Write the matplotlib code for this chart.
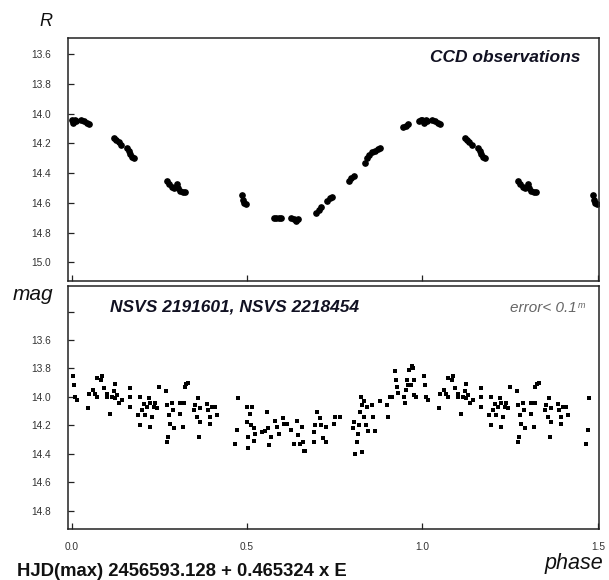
import matplotlib
matplotlib.use("Agg")
import matplotlib.pyplot as plt
import numpy as np

plt.rcParams['font.family'] = ['Liberation Sans', 'DejaVu Sans']

# CCD light curve (R band), phase 0..1
ccd_phase = [0.000, 0.005, 0.010, 0.014,
             0.027, 0.035, 0.043, 0.050,
             0.122, 0.128, 0.134, 0.140,
             0.158, 0.163, 0.168, 0.173, 0.177,
             0.271, 0.279, 0.286, 0.292,
             0.300, 0.303, 0.310, 0.318, 0.324,
             0.486, 0.488, 0.492, 0.496,
             0.577, 0.584, 0.591, 0.597,
             0.626, 0.633, 0.640, 0.646,
             0.698, 0.704, 0.710,
             0.728, 0.736, 0.742,
             0.790, 0.797, 0.804,
             0.836, 0.842, 0.848, 0.856, 0.864, 0.872, 0.878,
             0.944, 0.952, 0.958,
             0.990, 0.995]
ccd_mag = [14.04, 14.06, 14.04, 14.05,
           14.04, 14.05, 14.06, 14.07,
           14.16, 14.18, 14.19, 14.21,
           14.23, 14.25, 14.27, 14.29, 14.30,
           14.45, 14.47, 14.49, 14.50,
           14.47, 14.50, 14.52, 14.53, 14.53,
           14.55, 14.58, 14.60, 14.61,
           14.70, 14.70, 14.70, 14.70,
           14.70, 14.71, 14.72, 14.71,
           14.67, 14.65, 14.63,
           14.59, 14.57, 14.56,
           14.45, 14.43, 14.42,
           14.33, 14.30, 14.28, 14.26, 14.25, 14.24, 14.23,
           14.09, 14.08, 14.07,
           14.05, 14.04]

# NSVS survey photometry, phase 0..1
nsvs_phase = [0.005, 0.007, 0.010, 0.016, 0.046, 0.049, 0.062, 0.067, 0.073, 0.073,
              0.083, 0.087, 0.092, 0.100, 0.102, 0.111, 0.116, 0.120, 0.125, 0.125,
              0.130, 0.135, 0.144, 0.168, 0.168, 0.168, 0.189, 0.195, 0.196, 0.200,
              0.206, 0.210, 0.215, 0.220, 0.223, 0.225, 0.230, 0.234, 0.239, 0.244,
              0.249, 0.268, 0.271, 0.272, 0.275, 0.277, 0.282, 0.287, 0.290, 0.291,
              0.310, 0.310, 0.318, 0.320, 0.322, 0.325, 0.331, 0.348, 0.353, 0.358,
              0.360, 0.362, 0.365, 0.367, 0.386, 0.390, 0.394, 0.396, 0.400, 0.410,
              0.414, 0.467, 0.472, 0.474, 0.500, 0.500, 0.502, 0.502, 0.508, 0.512,
              0.514, 0.519, 0.521, 0.524, 0.543, 0.550, 0.557, 0.561, 0.564, 0.568,
              0.581, 0.586, 0.590, 0.604, 0.606, 0.614, 0.625, 0.633, 0.642, 0.645,
              0.650, 0.657, 0.659, 0.663, 0.666, 0.690, 0.691, 0.695, 0.700, 0.707,
              0.711, 0.717, 0.724, 0.726, 0.747, 0.752, 0.766, 0.802, 0.806, 0.808,
              0.813, 0.815, 0.818, 0.821, 0.825, 0.827, 0.827, 0.832, 0.834, 0.840,
              0.842, 0.846, 0.856, 0.859, 0.865, 0.879, 0.900, 0.903, 0.908, 0.913,
              0.922, 0.925, 0.927, 0.929, 0.948, 0.951, 0.953, 0.957, 0.960, 0.963,
              0.966, 0.970, 0.973, 0.976, 0.976, 0.982]
nsvs_mag = [13.85, 13.92, 14.00, 14.02, 14.08, 13.98, 13.95, 13.98, 14.00, 13.87,
            13.88, 13.85, 13.94, 13.98, 14.00, 14.12, 14.00, 13.96, 13.91, 14.01,
            13.99, 14.04, 14.02, 13.94, 14.00, 14.07, 14.13, 14.20, 14.00, 14.09,
            14.05, 14.13, 14.07, 14.01, 14.04, 14.21, 14.14, 14.07, 14.04, 14.08,
            13.93, 13.96, 14.06, 14.32, 14.28, 14.13, 14.19, 14.04, 14.09, 14.22,
            14.04, 14.12, 14.21, 14.04, 13.93, 13.91, 13.90, 14.09, 14.06, 14.14,
            14.01, 14.28, 14.18, 14.08, 14.05, 14.09, 14.14, 14.19, 14.07, 14.07,
            14.13, 14.33, 14.23, 14.01, 14.07, 14.18, 14.28, 14.36, 14.12, 14.20,
            14.07, 14.22, 14.31, 14.26, 14.25, 14.24, 14.11, 14.22, 14.34, 14.28,
            14.17, 14.21, 14.26, 14.15, 14.19, 14.19, 14.23, 14.33, 14.17, 14.27,
            14.33, 14.21, 14.32, 14.38, 14.38, 14.25, 14.32, 14.20, 14.11, 14.15,
            14.20, 14.29, 14.32, 14.21, 14.19, 14.14, 14.14, 14.22, 14.18, 14.40,
            14.32, 14.26, 14.20, 14.11, 14.00, 14.39, 14.06, 14.14, 14.03, 14.20,
            14.07, 14.24, 14.06, 14.14, 14.24, 14.03, 14.06, 14.14, 14.00, 14.00,
            13.82, 13.88, 13.93, 13.97, 14.00, 14.04, 13.95, 13.88, 13.92, 13.81,
            13.92, 13.78, 13.80, 13.88, 13.99, 14.00]

top_yticks = [13.6, 13.8, 14.0, 14.2, 14.4, 14.6, 14.8, 15.0]
bot_yticks = [13.4, 13.6, 13.8, 14.0, 14.2, 14.4, 14.6, 14.8]
xticks = [0.0, 0.5, 1.0, 1.5]


def fold(phase, mag):
    # repeat the first half cycle after phase 1
    phase = np.asarray(phase)
    mag = np.asarray(mag)
    keep = phase < 0.5
    return np.concatenate([phase, phase[keep] + 1]), np.concatenate([mag, mag[keep]])


W, H = 609, 580
fig = plt.figure(figsize=(W / 100, H / 100), dpi=100)
ax1 = fig.add_axes([68 / W, 1 - 281 / H, 531 / W, 243 / H])
ax2 = fig.add_axes([68 / W, 1 - 529 / H, 531 / W, 243 / H])

x, y = fold(ccd_phase, ccd_mag)
ax1.plot(x, y, 'o', ms=3.8, color='black', mec='black')
x, y = fold(nsvs_phase, nsvs_mag)
ax2.plot(x, y, 's', ms=3.2, color='black', mec='black', mew=0)

ax1.set_ylim(15.126, 13.49)
ax2.set_ylim(14.93, 13.22)

for ax in (ax1, ax2):
    ax.set_xlim(-0.01, 1.503)
    ax.set_xticks(xticks)
    for s in ax.spines.values():
        s.set_color('#222222')
        s.set_linewidth(1.1)
    ax.tick_params(direction='in', length=4, width=0.9, color='#222222',
                   labelsize=7.3, labelcolor='#333333')
    ax.tick_params(axis='y', pad=12)
    ax.tick_params(axis='x', pad=9)

ax1.set_yticks(top_yticks)
ax1.set_yticklabels(['%.1f' % v for v in top_yticks])
ax1.set_xticklabels([])
ax2.set_yticks(bot_yticks)
ax2.set_yticklabels([''] + ['%.1f' % v for v in bot_yticks[1:]])
ax2.set_xticklabels(['%.1f' % v for v in xticks])

ax1.text(0.964, 0.918, 'CCD observations', transform=ax1.transAxes, ha='right',
         va='center', fontsize=12.5, fontweight='bold', style='italic', color='#111122')
ax2.text(0.079, 0.9136, 'NSVS 2191601, NSVS 2218454', transform=ax2.transAxes,
         ha='left', va='center', fontsize=12.5, fontweight='bold', style='italic',
         color='#111122')
err = ax2.text(0.958, 0.909, 'error< 0.1', transform=ax2.transAxes, ha='right',
               va='center', fontsize=11, style='italic', color='#666666')
ax2.annotate('m', xy=(1, 1), xycoords=err, xytext=(0.5, 0), textcoords='offset points',
             ha='left', va='top', fontsize=6.5, style='italic', color='#666666')

fig.text(46 / W, 1 - 22 / H, 'R', ha='center', va='center', fontsize=13,
         style='italic', color='#111111')
fig.text(33 / W, 1 - 295 / H, 'mag', ha='center', va='center', fontsize=15,
         style='italic', color='#111111')
fig.text(574 / W, 1 - 563 / H, 'phase', ha='center', va='center', fontsize=15.5,
         style='italic', color='#111111')
fig.text(17 / W, 1 - 572 / H, 'HJD(max) 2456593.128 + 0.465324 x E', ha='left',
         va='center', fontsize=13.3, fontweight='bold', color='#111111')

fig.savefig('out.png', dpi=100)
